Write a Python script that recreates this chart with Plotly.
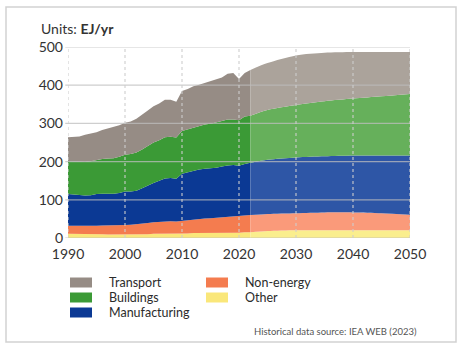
import plotly.graph_objects as go

# ---------------- data ----------------
hist_years = list(range(1990, 2023))
proj_years = [2022, 2025, 2030, 2035, 2040, 2045, 2050]

names = ["Other", "Non-energy", "Manufacturing", "Buildings", "Transport"]

other_hist = [11, 11, 10, 10, 10, 10, 10, 9, 9, 9, 9, 9, 9, 10, 10, 11, 11, 11, 12, 12,
              12, 12, 13, 13, 13, 13, 13, 14, 14, 14, 14, 15, 15]
nonenergy_hist = [21, 21, 21, 21, 21, 22, 23, 24, 24, 25, 25, 26, 27, 28, 29, 30, 31, 32, 32, 31,
                  33, 34, 35, 36, 38, 39, 40, 40, 42, 43, 43, 44, 45]
manufacturing_hist = [83, 82, 81, 80, 81, 83, 83, 83, 83, 84, 88, 87, 88, 92, 99, 103, 108, 113, 113, 112,
                      123, 126, 128, 130, 130, 130, 131, 133, 134, 134, 132, 135, 137]
buildings_hist = [86, 86, 87, 88, 89, 89, 91, 92, 93, 95, 96, 98, 100, 102, 103, 106, 106, 108, 108, 108,
                  112, 112, 113, 115, 116, 117, 118, 119, 120, 119, 119, 124, 123]
transport_hist = [63, 65, 67, 71, 72, 73, 76, 79, 80, 82, 84, 85, 88, 90, 93, 95, 96, 98, 97, 94,
                  105, 106, 108, 107, 109, 111, 112, 114, 120, 122, 108, 114, 120]

other_proj = [15, 18, 20, 20, 20, 20, 20]
nonenergy_proj = [45, 45, 45, 47, 47, 45, 41]
manufacturing_proj = [137, 142, 146, 147, 149, 151, 155]
buildings_proj = [123, 130, 137, 144, 149, 155, 161]
transport_proj = [120, 123, 130, 127, 122, 116, 110]

x_ticks = [1990, 2000, 2010, 2020, 2030, 2040, 2050]
y_ticks = [0, 100, 200, 300, 400, 500]

hist_series = [other_hist, nonenergy_hist, manufacturing_hist, buildings_hist, transport_hist]
proj_series = [other_proj, nonenergy_proj, manufacturing_proj, buildings_proj, transport_proj]

hist_colors = ["#fae77a", "#f47c4f", "#0b3994", "#3b9a36", "#968c85"]
proj_colors = ["#faee8e", "#fa9a7a", "#2e56a6", "#66b05b", "#aba39b"]

FONT = "Lato"

fig = go.Figure()
for name, vals, col in zip(names, hist_series, hist_colors):
    fig.add_trace(go.Scatter(x=hist_years, y=vals, name=name, stackgroup="hist",
                             mode="lines", line=dict(width=0), fillcolor=col,
                             showlegend=False, hoverinfo="skip"))
for name, vals, col in zip(names, proj_series, proj_colors):
    fig.add_trace(go.Scatter(x=proj_years, y=vals, name=name + " (projection)", stackgroup="proj",
                             mode="lines", line=dict(width=0, shape="spline", smoothing=0.8),
                             fillcolor=col, showlegend=False, hoverinfo="skip"))

shapes = []
# gridlines drawn above the areas
for v in y_ticks:
    shapes.append(dict(type="line", xref="paper", yref="y", x0=-0.008, x1=1, y0=v, y1=v,
                       line=dict(color="rgba(190,190,190,0.75)", width=1.2), layer="above"))
for xv in x_ticks:
    shapes.append(dict(type="line", xref="x", yref="paper", x0=xv, x1=xv, y0=0, y1=1,
                       line=dict(color="rgba(205,205,205,0.9)", width=1.2, dash="dot"), layer="above"))

# frame
def px(xp):
    return (xp - 68) / 342.0

def py(yp):
    return (238 - yp) / 191.0

shapes.append(dict(type="rect", xref="paper", yref="paper", x0=px(6), x1=px(456), y0=py(342), y1=py(7),
                   line=dict(color="#d2d2d2", width=1.5), fillcolor="rgba(0,0,0,0)", layer="below"))

# manual legend
legend_order = [("Transport", 4, 0, 0), ("Buildings", 3, 0, 1), ("Manufacturing", 2, 0, 2),
                ("Non-energy", 1, 1, 0), ("Other", 0, 1, 1)]
row_y = [282.5, 297.5, 312.5]
col_sw = [(70, 92), (206, 228)]
col_tx = [107, 243]
annotations = []
for label, idx, c, r in legend_order:
    cy = row_y[r]
    shapes.append(dict(type="rect", xref="paper", yref="paper", x0=px(col_sw[c][0]), x1=px(col_sw[c][1]),
                       y0=py(cy + 5), y1=py(cy - 5), fillcolor=hist_colors[idx], line=dict(width=0)))
    annotations.append(dict(text=label, xref="paper", yref="paper", x=px(col_tx[c]), y=py(cy),
                            xanchor="left", yanchor="middle", showarrow=False,
                            font=dict(family=FONT, size=12.5, color="#2b2b2b")))

annotations.append(dict(text="Units: <b>EJ/yr</b>", xref="paper", yref="paper", x=px(39), y=py(28),
                        xanchor="left", yanchor="middle", showarrow=False,
                        font=dict(family=FONT, size=14, color="#333333")))
annotations.append(dict(text="Historical data source: IEA WEB (2023)", xref="paper", yref="paper",
                        x=px(419), y=py(331), xanchor="right", yanchor="middle", showarrow=False,
                        font=dict(family=FONT, size=9.5, color="#555555")))

fig.update_layout(
    width=461, height=350,
    margin=dict(l=68, r=51, t=47, b=112),
    paper_bgcolor="white", plot_bgcolor="white",
    font=dict(family=FONT, size=14, color="#333333"),
    shapes=shapes, annotations=annotations,
    showlegend=False,
)
fig.update_xaxes(range=[1990, 2050], tickvals=x_ticks, ticktext=[str(v) for v in x_ticks],
                 showgrid=False, zeroline=False, showline=False, ticks="",
                 ticklabelstandoff=6,
                 tickfont=dict(family=FONT, size=14, color="#333333"))
fig.update_yaxes(range=[0, 500], tickvals=y_ticks, ticktext=[str(v) for v in y_ticks],
                 showgrid=False, zeroline=False, showline=False, ticks="",
                 ticklabelstandoff=4,
                 tickfont=dict(family=FONT, size=14, color="#333333"))

fig.write_html("out.html")
